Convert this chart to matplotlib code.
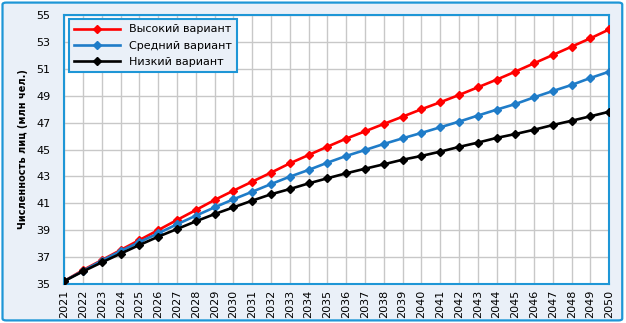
import matplotlib.pyplot as plt
from matplotlib.patches import FancyBboxPatch

years = list(range(2021, 2051))

# высокий вариант
high = [35.22, 36.04, 36.78, 37.53, 38.27, 39.01, 39.76, 40.50, 41.25, 41.94,
        42.61, 43.28, 43.97, 44.59, 45.21, 45.81, 46.35, 46.90, 47.44, 47.99,
        48.51, 49.05, 49.62, 50.19, 50.79, 51.41, 52.03, 52.65, 53.27, 53.93]
# средний вариант
mid = [35.22, 35.98, 36.74, 37.45, 38.12, 38.77, 39.44, 40.08, 40.70, 41.30,
       41.86, 42.43, 42.98, 43.48, 44.02, 44.52, 44.96, 45.41, 45.83, 46.23,
       46.65, 47.07, 47.52, 47.96, 48.38, 48.88, 49.35, 49.80, 50.32, 50.79]
# низкий вариант
low = [35.22, 35.94, 36.61, 37.26, 37.90, 38.52, 39.09, 39.66, 40.20, 40.70,
       41.20, 41.67, 42.06, 42.48, 42.86, 43.23, 43.57, 43.90, 44.24, 44.52,
       44.84, 45.19, 45.51, 45.86, 46.15, 46.47, 46.82, 47.14, 47.47, 47.81]

labels = ["Высокий вариант", "Средний вариант", "Низкий вариант"]
colors = ["#FF0000", "#1F7CC8", "#000000"]

bg = "#EAF0F8"
frame = "#1E96D6"

fig = plt.figure(figsize=(6.26, 3.23), dpi=100)
fig.patch.set_facecolor("white")
fig.patches.append(FancyBboxPatch((0.004, 0.008), 0.99, 0.984,
                                  boxstyle="round,pad=0,rounding_size=0.006",
                                  transform=fig.transFigure, facecolor=bg,
                                  edgecolor=frame, linewidth=1.6, zorder=-1))

ax = fig.add_axes([0.1027, 0.1207, 0.8706, 0.8329])
ax.set_facecolor("white")

for vals, lab, c in zip([high, mid, low], labels, colors):
    ax.plot(years, vals, color=c, lw=1.9, marker="D", ms=4, label=lab, zorder=3)

ax.set_xlim(2021, 2050)
ax.set_ylim(35, 55)
ax.set_xticks(years)
ax.set_xticklabels([str(y) for y in years], rotation=90)
ax.set_yticks(range(35, 56, 2))
ax.grid(True, color="#C8C8C8", lw=1)
ax.set_axisbelow(True)
ax.tick_params(length=0, labelsize=8, pad=4)
ax.tick_params(axis="y", pad=10)
for s in ax.spines.values():
    s.set_color(frame)
    s.set_linewidth(1.5)

ax.set_ylabel("Численность лиц (млн чел.)", fontsize=7, fontweight="bold",
              labelpad=6)

leg = ax.legend(loc="upper left", bbox_to_anchor=(0.0, 1.0), borderaxespad=0.4,
                fontsize=8, fancybox=False, framealpha=1, borderpad=0.45,
                labelspacing=0.55, handlelength=4.2, handletextpad=0.8)
leg.get_frame().set_facecolor(bg)
leg.get_frame().set_edgecolor(frame)
leg.get_frame().set_linewidth(1.5)

fig.savefig("out.png", dpi=100)
